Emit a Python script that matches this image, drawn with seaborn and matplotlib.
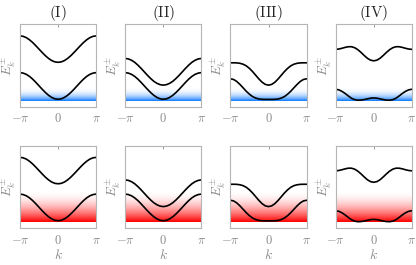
import numpy as np
import matplotlib
matplotlib.use("Agg")
import matplotlib.pyplot as plt
import seaborn as sns
from matplotlib.colors import LinearSegmentedColormap

sns.set_style("white")
plt.rcParams['mathtext.fontset'] = 'cm'
plt.rcParams['font.family'] = ['DejaVu Serif']

# momentum grid, -pi..pi in steps of pi/12
k = np.linspace(-np.pi, np.pi, 25)

titles = ["(I)", "(II)", "(III)", "(IV)"]

# upper / lower bands (axis units 0..1)
upper_I = [0.860, 0.855, 0.839, 0.813, 0.780, 0.741, 0.700, 0.659, 0.620, 0.587, 0.561, 0.545, 0.540,
           0.545, 0.561, 0.587, 0.620, 0.659, 0.700, 0.741, 0.780, 0.813, 0.839, 0.855, 0.860]
lower_I = [0.415, 0.409, 0.394, 0.369, 0.336, 0.297, 0.255, 0.213, 0.174, 0.140, 0.114, 0.097, 0.092,
           0.097, 0.114, 0.140, 0.174, 0.213, 0.255, 0.297, 0.336, 0.369, 0.394, 0.409, 0.415]
upper_II = [0.587, 0.581, 0.565, 0.540, 0.506, 0.467, 0.425, 0.383, 0.344, 0.310, 0.285, 0.269, 0.263,
            0.269, 0.285, 0.310, 0.344, 0.383, 0.425, 0.467, 0.506, 0.540, 0.565, 0.581, 0.587]
lower_II = lower_I
upper_III = [0.534, 0.534, 0.533, 0.528, 0.517, 0.497, 0.466, 0.427, 0.382, 0.337, 0.298, 0.272, 0.263,
             0.272, 0.298, 0.337, 0.382, 0.427, 0.466, 0.497, 0.517, 0.528, 0.533, 0.534, 0.534]
lower_III = [0.340, 0.332, 0.308, 0.272, 0.231, 0.189, 0.153, 0.124, 0.106, 0.095, 0.091, 0.090, 0.090,
             0.090, 0.091, 0.095, 0.106, 0.124, 0.153, 0.189, 0.231, 0.272, 0.308, 0.332, 0.340]
upper_IV = [0.697, 0.701, 0.710, 0.721, 0.729, 0.729, 0.717, 0.693, 0.660, 0.623, 0.589, 0.566, 0.558,
            0.566, 0.589, 0.623, 0.660, 0.693, 0.717, 0.729, 0.729, 0.721, 0.710, 0.701, 0.697]
lower_IV = [0.213, 0.206, 0.188, 0.162, 0.132, 0.104, 0.087, 0.080, 0.082, 0.088, 0.097, 0.105, 0.108,
            0.105, 0.097, 0.088, 0.082, 0.080, 0.087, 0.104, 0.132, 0.162, 0.188, 0.206, 0.213]

uppers = [upper_I, upper_II, upper_III, upper_IV]
lowers = [lower_I, lower_II, lower_III, lower_IV]

# filled region (bottom, top) for each row
band_blue = (0.075, 0.25)
band_red = (0.08, 0.45)

row_fill = [("#0a78ff", band_blue, 2.6), ("#ff0000", band_red, 1.8)]

gray = "#8a8a8a"

fig, axes = plt.subplots(2, 4, figsize=(4.16, 2.65), dpi=100)
plt.subplots_adjust(left=0.048, right=0.990, top=0.908, bottom=0.1385, wspace=0.38, hspace=0.473)

for r in range(2):
    col, (b0, b1), pw = row_fill[r]
    cmap = LinearSegmentedColormap.from_list("fade", ["white", col])
    grad = (np.linspace(1, 0, 200) ** pw)[:, None]
    for c in range(4):
        ax = axes[r, c]
        ax.imshow(grad, cmap=cmap, vmin=0, vmax=1, origin="lower", aspect="auto",
                  extent=[-np.pi, np.pi, b0, b1], zorder=0)
        sns.lineplot(x=k, y=uppers[c], ax=ax, color="black", lw=1.2)
        sns.lineplot(x=k, y=lowers[c], ax=ax, color="black", lw=1.2)
        ax.set_xlim(-np.pi, np.pi)
        ax.set_ylim(0, 1)
        ax.set_xticks([-np.pi, 0, np.pi])
        ax.set_xticklabels([r"$-\pi$", r"$0$", r"$\pi$"], color=gray, fontsize=9)
        ax.set_yticks([])
        ax.tick_params(axis="x", direction="in", length=2, width=0.6, color=gray, pad=4,
                       top=True)
        for s in ax.spines.values():
            s.set_color("#b5b5b5")
            s.set_linewidth(0.8)
        ax.set_ylabel(r"$E_k^{\pm}$", color=gray, fontsize=9.5, labelpad=1.5)
        if r == 0:
            ax.set_title(r"$\mathrm{" + titles[c] + "}$", fontsize=11, pad=5)
        else:
            ax.set_xlabel(r"$k$", color=gray, fontsize=10, labelpad=1)

plt.savefig("out.png", dpi=100)
